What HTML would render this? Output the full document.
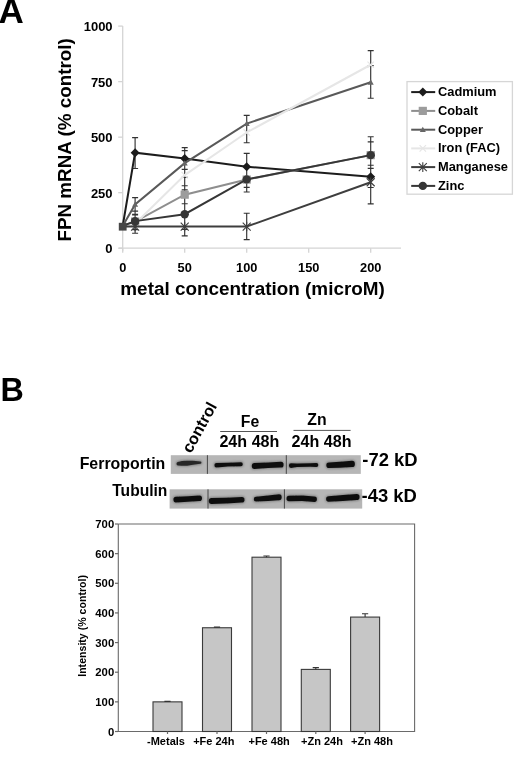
<!DOCTYPE html>
<html><head><meta charset="utf-8"><style>
html,body{margin:0;padding:0;background:#fff;}
svg{display:block;font-family:"Liberation Sans", sans-serif;filter:grayscale(1);}
</style></head><body>
<svg width="520" height="757" viewBox="0 0 520 757" font-family='"Liberation Sans", sans-serif' fill="#000">
<text x="-1.4" y="22.8" font-size="35" font-weight="bold">A</text>
<text transform="translate(71.3,139.9) rotate(-90)" text-anchor="middle" font-size="18.85" font-weight="bold">FPN mRNA (% control)</text>
<line x1="122.7" y1="26.099999999999994" x2="122.7" y2="251.2" stroke="#d4d4d4" stroke-width="1.3"/>
<line x1="118.7" y1="248.2" x2="401" y2="248.2" stroke="#d4d4d4" stroke-width="1.3"/>
<line x1="118.2" y1="248.20" x2="122.7" y2="248.20" stroke="#d4d4d4" stroke-width="1.3"/>
<text x="112.6" y="253.10" text-anchor="end" font-size="13" font-weight="bold">0</text>
<line x1="118.2" y1="192.67" x2="122.7" y2="192.67" stroke="#d4d4d4" stroke-width="1.3"/>
<text x="112.6" y="197.57" text-anchor="end" font-size="13" font-weight="bold">250</text>
<line x1="118.2" y1="137.15" x2="122.7" y2="137.15" stroke="#d4d4d4" stroke-width="1.3"/>
<text x="112.6" y="142.05" text-anchor="end" font-size="13" font-weight="bold">500</text>
<line x1="118.2" y1="81.62" x2="122.7" y2="81.62" stroke="#d4d4d4" stroke-width="1.3"/>
<text x="112.6" y="86.53" text-anchor="end" font-size="13" font-weight="bold">750</text>
<line x1="118.2" y1="26.10" x2="122.7" y2="26.10" stroke="#d4d4d4" stroke-width="1.3"/>
<text x="112.6" y="31.00" text-anchor="end" font-size="13" font-weight="bold">1000</text>
<line x1="122.70" y1="248.2" x2="122.70" y2="252.7" stroke="#d4d4d4" stroke-width="1.3"/>
<text x="122.70" y="272.3" text-anchor="middle" font-size="12.8" font-weight="bold">0</text>
<line x1="184.70" y1="248.2" x2="184.70" y2="252.7" stroke="#d4d4d4" stroke-width="1.3"/>
<text x="184.70" y="272.3" text-anchor="middle" font-size="12.8" font-weight="bold">50</text>
<line x1="246.70" y1="248.2" x2="246.70" y2="252.7" stroke="#d4d4d4" stroke-width="1.3"/>
<text x="246.70" y="272.3" text-anchor="middle" font-size="12.8" font-weight="bold">100</text>
<line x1="308.70" y1="248.2" x2="308.70" y2="252.7" stroke="#d4d4d4" stroke-width="1.3"/>
<text x="308.70" y="272.3" text-anchor="middle" font-size="12.8" font-weight="bold">150</text>
<line x1="370.70" y1="248.2" x2="370.70" y2="252.7" stroke="#d4d4d4" stroke-width="1.3"/>
<text x="370.70" y="272.3" text-anchor="middle" font-size="12.8" font-weight="bold">200</text>
<text x="252.6" y="295.3" text-anchor="middle" font-size="18.9" font-weight="bold">metal concentration (microM)</text>
<path d="M135.10,137.60V168.50M135.10,197.60V233.20M132.10,137.60H138.10M132.10,168.50H138.10M132.10,197.60H138.10M132.10,211.10H138.10M132.10,214.30H138.10M132.10,214.90H138.10M132.10,229.60H138.10M132.10,233.20H138.10" stroke="#333" stroke-width="1.15" fill="none"/>
<path d="M184.70,147.60V235.80M181.70,147.60H187.70M181.70,150.60H187.70M181.70,169.40H187.70M181.70,177.30H187.70M181.70,185.70H187.70M181.70,189.90H187.70M181.70,203.70H187.70M181.70,229.40H187.70M181.70,235.80H187.70" stroke="#333" stroke-width="1.15" fill="none"/>
<path d="M246.70,115.40V142.70M246.70,153.40V192.00M246.70,213.20V239.60M243.70,115.40H249.70M243.70,142.70H249.70M243.70,153.40H249.70M243.70,187.30H249.70M243.70,192.00H249.70M243.70,213.20H249.70M243.70,239.60H249.70" stroke="#333" stroke-width="1.15" fill="none"/>
<path d="M370.70,50.60V98.20M370.70,136.70V203.80M367.70,50.60H373.70M367.70,65.60H373.70M367.70,98.20H373.70M367.70,136.70H373.70M367.70,141.90H373.70M367.70,165.20H373.70M367.70,168.40H373.70M367.70,187.50H373.70M367.70,203.80H373.70" stroke="#333" stroke-width="1.15" fill="none"/>
<polyline points="122.70,225.99 135.10,152.70 184.70,158.47 246.70,166.69 370.70,176.68" fill="none" stroke="#1c1c1c" stroke-width="2"/>
<path d="M130.60,152.70L135.10,148.20L139.60,152.70L135.10,157.20Z" fill="#1c1c1c"/>
<path d="M180.20,158.47L184.70,153.97L189.20,158.47L184.70,162.97Z" fill="#1c1c1c"/>
<path d="M242.20,166.69L246.70,162.19L251.20,166.69L246.70,171.19Z" fill="#1c1c1c"/>
<path d="M366.20,176.68L370.70,172.18L375.20,176.68L370.70,181.18Z" fill="#1c1c1c"/>
<polyline points="122.70,225.99 135.10,221.55 184.70,194.67 246.70,179.57 370.70,155.14" fill="none" stroke="#8e8e8e" stroke-width="2"/>
<rect x="131.00" y="217.45" width="8.20" height="8.20" fill="#9c9c9c"/>
<rect x="180.60" y="190.57" width="8.20" height="8.20" fill="#9c9c9c"/>
<rect x="242.60" y="175.47" width="8.20" height="8.20" fill="#9c9c9c"/>
<rect x="366.60" y="151.04" width="8.20" height="8.20" fill="#9c9c9c"/>
<polyline points="122.70,225.99 135.10,204.45 184.70,163.14 246.70,123.60 370.70,82.29" fill="none" stroke="#595959" stroke-width="2"/>
<path d="M132.10,206.85L135.10,201.45L138.10,206.85Z" fill="#666"/>
<path d="M181.70,165.54L184.70,160.14L187.70,165.54Z" fill="#666"/>
<path d="M243.70,126.00L246.70,120.60L249.70,126.00Z" fill="#666"/>
<path d="M367.70,84.69L370.70,79.29L373.70,84.69Z" fill="#666"/>
<polyline points="122.70,225.99 135.10,223.77 184.70,175.13 246.70,132.49 370.70,64.75" fill="none" stroke="#e6e6e6" stroke-width="2"/>
<path d="M131.90,220.57L138.30,226.97M131.90,226.97L138.30,220.57" stroke="#e6e6e6" stroke-width="1.2"/>
<path d="M181.50,171.93L187.90,178.33M181.50,178.33L187.90,171.93" stroke="#e6e6e6" stroke-width="1.2"/>
<path d="M243.50,129.29L249.90,135.69M243.50,135.69L249.90,129.29" stroke="#e6e6e6" stroke-width="1.2"/>
<path d="M367.50,61.55L373.90,67.95M367.50,67.95L373.90,61.55" stroke="#e6e6e6" stroke-width="1.2"/>
<polyline points="122.70,226.55 135.10,226.55 184.70,226.55 246.70,226.55 370.70,182.24" fill="none" stroke="#3e3e3e" stroke-width="2"/>
<path d="M131.10,222.55L139.10,230.55M131.10,230.55L139.10,222.55M135.10,221.75L135.10,231.35" stroke="#3e3e3e" stroke-width="1.1"/>
<path d="M180.70,222.55L188.70,230.55M180.70,230.55L188.70,222.55M184.70,221.75L184.70,231.35" stroke="#3e3e3e" stroke-width="1.1"/>
<path d="M242.70,222.55L250.70,230.55M242.70,230.55L250.70,222.55M246.70,221.75L246.70,231.35" stroke="#3e3e3e" stroke-width="1.1"/>
<path d="M366.70,178.24L374.70,186.24M366.70,186.24L374.70,178.24M370.70,177.44L370.70,187.04" stroke="#3e3e3e" stroke-width="1.1"/>
<polyline points="122.70,225.99 135.10,221.10 184.70,214.22 246.70,179.35 370.70,155.14" fill="none" stroke="#363636" stroke-width="2"/>
<circle cx="135.10" cy="221.10" r="4.20" fill="#363636"/>
<circle cx="184.70" cy="214.22" r="4.20" fill="#363636"/>
<circle cx="246.70" cy="179.35" r="4.20" fill="#363636"/>
<circle cx="370.70" cy="155.14" r="4.20" fill="#363636"/>
<rect x="118.80" y="222.80" width="7.8" height="7.8" fill="#474747"/>
<rect x="407" y="81.6" width="105.4" height="112.6" fill="#fff" stroke="#d6d6d6" stroke-width="1.3"/>
<line x1="411.2" y1="92.1" x2="435.2" y2="92.1" stroke="#1c1c1c" stroke-width="2"/>
<path d="M418.30,92.10L422.80,87.60L427.30,92.10L422.80,96.60Z" fill="#1c1c1c"/>
<text x="438" y="96.00" font-size="12.85" font-weight="bold">Cadmium</text>
<line x1="411.2" y1="110.9" x2="435.2" y2="110.9" stroke="#8e8e8e" stroke-width="2"/>
<rect x="418.70" y="106.80" width="8.20" height="8.20" fill="#9c9c9c"/>
<text x="438" y="114.80" font-size="12.85" font-weight="bold">Cobalt</text>
<line x1="411.2" y1="129.7" x2="435.2" y2="129.7" stroke="#595959" stroke-width="2"/>
<path d="M419.80,132.10L422.80,126.70L425.80,132.10Z" fill="#666"/>
<text x="438" y="133.60" font-size="12.85" font-weight="bold">Copper</text>
<line x1="411.2" y1="148.4" x2="435.2" y2="148.4" stroke="#e6e6e6" stroke-width="2"/>
<path d="M419.60,145.20L426.00,151.60M419.60,151.60L426.00,145.20" stroke="#e6e6e6" stroke-width="1.2"/>
<text x="438" y="152.30" font-size="12.85" font-weight="bold">Iron (FAC)</text>
<line x1="411.2" y1="167.1" x2="435.2" y2="167.1" stroke="#3e3e3e" stroke-width="2"/>
<path d="M418.80,163.10L426.80,171.10M418.80,171.10L426.80,163.10M422.80,162.30L422.80,171.90" stroke="#3e3e3e" stroke-width="1.1"/>
<text x="438" y="171.00" font-size="12.85" font-weight="bold">Manganese</text>
<line x1="411.2" y1="185.9" x2="435.2" y2="185.9" stroke="#363636" stroke-width="2"/>
<circle cx="422.80" cy="185.90" r="4.20" fill="#363636"/>
<text x="438" y="189.80" font-size="12.85" font-weight="bold">Zinc</text>
<text x="0.4" y="401.4" font-size="32.3" font-weight="bold">B</text>
<text transform="translate(190.9,454.0) rotate(-61)" font-size="16.2" font-weight="bold">control</text>
<text x="250" y="427.3" text-anchor="middle" font-size="15.8" font-weight="bold">Fe</text>
<text x="316.9" y="424.8" text-anchor="middle" font-size="15.8" font-weight="bold">Zn</text>
<line x1="220.2" y1="431.5" x2="277" y2="431.5" stroke="#555" stroke-width="1"/>
<line x1="293.5" y1="430.4" x2="350.6" y2="430.4" stroke="#555" stroke-width="1"/>
<text x="249.4" y="447" text-anchor="middle" font-size="16.1" font-weight="bold">24h 48h</text>
<text x="321.5" y="446.6" text-anchor="middle" font-size="16.1" font-weight="bold">24h 48h</text>
<text x="165.3" y="468.6" text-anchor="end" font-size="15.9" font-weight="bold">Ferroportin</text>
<text x="167.4" y="495.8" text-anchor="end" font-size="15.6" font-weight="bold">Tubulin</text>
<text x="362.3" y="466" font-size="18.4" font-weight="bold">-72 kD</text>
<text x="361.6" y="501.7" font-size="18.4" font-weight="bold">-43 kD</text>
<rect x="170.8" y="455.2" width="190" height="18.7" fill="#b6b6b6"/>
<rect x="169.6" y="489.3" width="192.6" height="19.3" fill="#b6b6b6"/>
<line x1="207.4" y1="455.2" x2="207.4" y2="473.9" stroke="#3a3a3a" stroke-width="0.9"/>
<line x1="286.3" y1="455.2" x2="286.3" y2="473.9" stroke="#3a3a3a" stroke-width="0.9"/>
<line x1="208" y1="489.3" x2="208" y2="508.6" stroke="#3a3a3a" stroke-width="0.9"/>
<line x1="284.4" y1="489.3" x2="284.4" y2="508.6" stroke="#3a3a3a" stroke-width="0.9"/>
<defs><filter id="bl" x="-20%" y="-50%" width="140%" height="200%"><feGaussianBlur stdDeviation="0.7"/></filter><filter id="bl2" x="-20%" y="-80%" width="140%" height="260%"><feGaussianBlur stdDeviation="1.0"/></filter></defs>
<path d="M178.0,461.1 L182.0,460.2 L187.0,459.8 L193.0,459.9 L200.3,460.5 A1.9,2.1 0 0 1 200.3,464.7 L200.3,464.7 L193.0,465.7 L187.0,466.6 L182.0,466.6 L178.0,466.3 A2.3,2.6 0 0 1 178.0,461.1Z" fill="#444" opacity="0.45" filter="url(#bl2)"/><path d="M178.0,462.0 L182.0,461.1 L187.0,460.7 L193.0,460.8 L200.3,461.4 A1.1,1.2 0 0 1 200.3,463.8 L200.3,463.8 L193.0,464.8 L187.0,465.7 L182.0,465.7 L178.0,465.4 A1.5,1.7 0 0 1 178.0,462.0Z" fill="#262626" filter="url(#bl)"/>
<path d="M216.5,462.0 L228.0,461.9 L241.0,461.3 A2.6,2.9 0 0 1 241.0,467.1 L241.0,467.1 L228.0,467.3 L216.5,468.4 A2.9,3.2 0 0 1 216.5,462.0Z" fill="#444" opacity="0.45" filter="url(#bl2)"/><path d="M216.5,462.9 L228.0,462.8 L241.0,462.2 A1.8,2.0 0 0 1 241.0,466.2 L241.0,466.2 L228.0,466.4 L216.5,467.5 A2.1,2.3 0 0 1 216.5,462.9Z" fill="#111" filter="url(#bl)"/>
<path d="M254.5,462.0 L268.0,461.6 L281.0,460.9 A3.4,3.8 0 0 1 281.0,468.5 L281.0,468.5 L268.0,468.8 L254.5,469.8 A3.5,3.9 0 0 1 254.5,462.0Z" fill="#444" opacity="0.45" filter="url(#bl2)"/><path d="M254.5,462.9 L268.0,462.5 L281.0,461.8 A2.6,2.9 0 0 1 281.0,467.6 L281.0,467.6 L268.0,467.9 L254.5,468.9 A2.7,3.0 0 0 1 254.5,462.9Z" fill="#111" filter="url(#bl)"/>
<path d="M291.0,462.4 L297.0,462.5 L310.0,462.3 L316.5,462.0 A2.6,2.9 0 0 1 316.5,467.8 L316.5,467.8 L310.0,467.7 L297.0,467.9 L291.0,468.8 A2.9,3.2 0 0 1 291.0,462.4Z" fill="#444" opacity="0.45" filter="url(#bl2)"/><path d="M291.0,463.3 L297.0,463.4 L310.0,463.2 L316.5,462.9 A1.8,2.0 0 0 1 316.5,466.9 L316.5,466.9 L310.0,466.8 L297.0,467.0 L291.0,467.9 A2.1,2.3 0 0 1 291.0,463.3Z" fill="#111" filter="url(#bl)"/>
<path d="M328.8,461.6 L340.0,460.9 L352.0,459.8 A3.7,4.1 0 0 1 352.0,468.0 L352.0,468.0 L340.0,468.7 L328.8,469.0 A3.3,3.7 0 0 1 328.8,461.6Z" fill="#444" opacity="0.45" filter="url(#bl2)"/><path d="M328.8,462.5 L340.0,461.8 L352.0,460.7 A2.9,3.2 0 0 1 352.0,467.1 L352.0,467.1 L340.0,467.8 L328.8,468.1 A2.5,2.8 0 0 1 328.8,462.5Z" fill="#111" filter="url(#bl)"/>
<path d="M176.0,495.8 L188.0,495.3 L199.5,494.5 A3.3,3.7 0 0 1 199.5,501.9 L199.5,501.9 L188.0,502.7 L176.0,503.4 A3.4,3.8 0 0 1 176.0,495.8Z" fill="#444" opacity="0.45" filter="url(#bl2)"/><path d="M176.0,496.7 L188.0,496.2 L199.5,495.4 A2.5,2.8 0 0 1 199.5,501.0 L199.5,501.0 L188.0,501.8 L176.0,502.5 A2.6,2.9 0 0 1 176.0,496.7Z" fill="#111" filter="url(#bl)"/>
<path d="M211.5,497.1 L226.0,496.8 L242.0,496.0 A3.3,3.7 0 0 1 242.0,503.4 L242.0,503.4 L226.0,504.4 L211.5,504.9 A3.5,3.9 0 0 1 211.5,497.1Z" fill="#444" opacity="0.45" filter="url(#bl2)"/><path d="M211.5,498.0 L226.0,497.7 L242.0,496.9 A2.5,2.8 0 0 1 242.0,502.5 L242.0,502.5 L226.0,503.5 L211.5,504.0 A2.7,3.0 0 0 1 211.5,498.0Z" fill="#111" filter="url(#bl)"/>
<path d="M256.0,495.9 L268.0,494.7 L279.0,493.3 A3.5,3.9 0 0 1 279.0,501.1 L279.0,501.1 L268.0,501.9 L256.0,502.5 A3.0,3.3 0 0 1 256.0,495.9Z" fill="#444" opacity="0.45" filter="url(#bl2)"/><path d="M256.0,496.8 L268.0,495.6 L279.0,494.2 A2.7,3.0 0 0 1 279.0,500.2 L279.0,500.2 L268.0,501.0 L256.0,501.6 A2.2,2.4 0 0 1 256.0,496.8Z" fill="#111" filter="url(#bl)"/>
<path d="M289.0,494.8 L302.0,494.5 L314.5,495.6 A3.2,3.6 0 0 1 314.5,502.8 L314.5,502.8 L302.0,501.9 L289.0,502.2 A3.3,3.7 0 0 1 289.0,494.8Z" fill="#444" opacity="0.45" filter="url(#bl2)"/><path d="M289.0,495.7 L302.0,495.4 L314.5,496.5 A2.4,2.7 0 0 1 314.5,501.9 L314.5,501.9 L302.0,501.0 L289.0,501.3 A2.5,2.8 0 0 1 289.0,495.7Z" fill="#111" filter="url(#bl)"/>
<path d="M328.5,495.4 L343.0,494.2 L356.8,493.0 A3.6,4.0 0 0 1 356.8,501.0 L356.8,501.0 L343.0,501.8 L328.5,502.6 A3.2,3.6 0 0 1 328.5,495.4Z" fill="#444" opacity="0.45" filter="url(#bl2)"/><path d="M328.5,496.3 L343.0,495.1 L356.8,493.9 A2.8,3.1 0 0 1 356.8,500.1 L356.8,500.1 L343.0,500.9 L328.5,501.7 A2.4,2.7 0 0 1 328.5,496.3Z" fill="#111" filter="url(#bl)"/>
<path d="M118.3,524V731.5H414.6V524H118.3" fill="none" stroke="#6a6a6a" stroke-width="1.1"/>
<line x1="115.0" y1="731.50" x2="118.3" y2="731.50" stroke="#6a6a6a" stroke-width="1.2"/>
<text x="114.2" y="735.60" text-anchor="end" font-size="11.3" font-weight="bold">0</text>
<line x1="115.0" y1="701.86" x2="118.3" y2="701.86" stroke="#6a6a6a" stroke-width="1.2"/>
<text x="114.2" y="705.96" text-anchor="end" font-size="11.3" font-weight="bold">100</text>
<line x1="115.0" y1="672.21" x2="118.3" y2="672.21" stroke="#6a6a6a" stroke-width="1.2"/>
<text x="114.2" y="676.31" text-anchor="end" font-size="11.3" font-weight="bold">200</text>
<line x1="115.0" y1="642.57" x2="118.3" y2="642.57" stroke="#6a6a6a" stroke-width="1.2"/>
<text x="114.2" y="646.67" text-anchor="end" font-size="11.3" font-weight="bold">300</text>
<line x1="115.0" y1="612.93" x2="118.3" y2="612.93" stroke="#6a6a6a" stroke-width="1.2"/>
<text x="114.2" y="617.03" text-anchor="end" font-size="11.3" font-weight="bold">400</text>
<line x1="115.0" y1="583.29" x2="118.3" y2="583.29" stroke="#6a6a6a" stroke-width="1.2"/>
<text x="114.2" y="587.39" text-anchor="end" font-size="11.3" font-weight="bold">500</text>
<line x1="115.0" y1="553.64" x2="118.3" y2="553.64" stroke="#6a6a6a" stroke-width="1.2"/>
<text x="114.2" y="557.74" text-anchor="end" font-size="11.3" font-weight="bold">600</text>
<line x1="115.0" y1="524.00" x2="118.3" y2="524.00" stroke="#6a6a6a" stroke-width="1.2"/>
<text x="114.2" y="528.10" text-anchor="end" font-size="11.3" font-weight="bold">700</text>
<text transform="translate(85.8,625.9) rotate(-90)" text-anchor="middle" font-size="10.6" font-weight="bold">Intensity (% control)</text>
<rect x="153.00" y="701.86" width="29" height="29.64" fill="#c6c6c6" stroke="#3a3a3a" stroke-width="1.1"/>
<path d="M167.50,701.86V701.41M164.40,701.41H170.60" stroke="#333" stroke-width="1.1"/>
<line x1="167.50" y1="731.5" x2="167.50" y2="734.0" stroke="#6a6a6a" stroke-width="1.2"/>
<text x="166.00" y="744.6" text-anchor="middle" font-size="11" font-weight="bold">-Metals</text>
<rect x="202.50" y="627.75" width="29" height="103.75" fill="#c6c6c6" stroke="#3a3a3a" stroke-width="1.1"/>
<path d="M217.00,627.75V627.16M213.90,627.16H220.10" stroke="#333" stroke-width="1.1"/>
<line x1="217.00" y1="731.5" x2="217.00" y2="734.0" stroke="#6a6a6a" stroke-width="1.2"/>
<text x="213.80" y="744.6" text-anchor="middle" font-size="11" font-weight="bold">+Fe 24h</text>
<rect x="252.00" y="557.20" width="29" height="174.30" fill="#c6c6c6" stroke="#3a3a3a" stroke-width="1.1"/>
<path d="M266.50,557.20V556.01M263.40,556.01H269.60" stroke="#333" stroke-width="1.1"/>
<line x1="266.50" y1="731.5" x2="266.50" y2="734.0" stroke="#6a6a6a" stroke-width="1.2"/>
<text x="269.10" y="744.6" text-anchor="middle" font-size="11" font-weight="bold">+Fe 48h</text>
<rect x="301.30" y="669.40" width="29" height="62.10" fill="#c6c6c6" stroke="#3a3a3a" stroke-width="1.1"/>
<path d="M315.80,669.40V667.62M312.70,667.62H318.90" stroke="#333" stroke-width="1.1"/>
<line x1="315.80" y1="731.5" x2="315.80" y2="734.0" stroke="#6a6a6a" stroke-width="1.2"/>
<text x="322.00" y="744.6" text-anchor="middle" font-size="11" font-weight="bold">+Zn 24h</text>
<rect x="350.60" y="617.08" width="29" height="114.42" fill="#c6c6c6" stroke="#3a3a3a" stroke-width="1.1"/>
<path d="M365.10,617.08V613.82M362.00,613.82H368.20" stroke="#333" stroke-width="1.1"/>
<line x1="365.10" y1="731.5" x2="365.10" y2="734.0" stroke="#6a6a6a" stroke-width="1.2"/>
<text x="372.00" y="744.6" text-anchor="middle" font-size="11" font-weight="bold">+Zn 48h</text>
</svg>
</body></html>
